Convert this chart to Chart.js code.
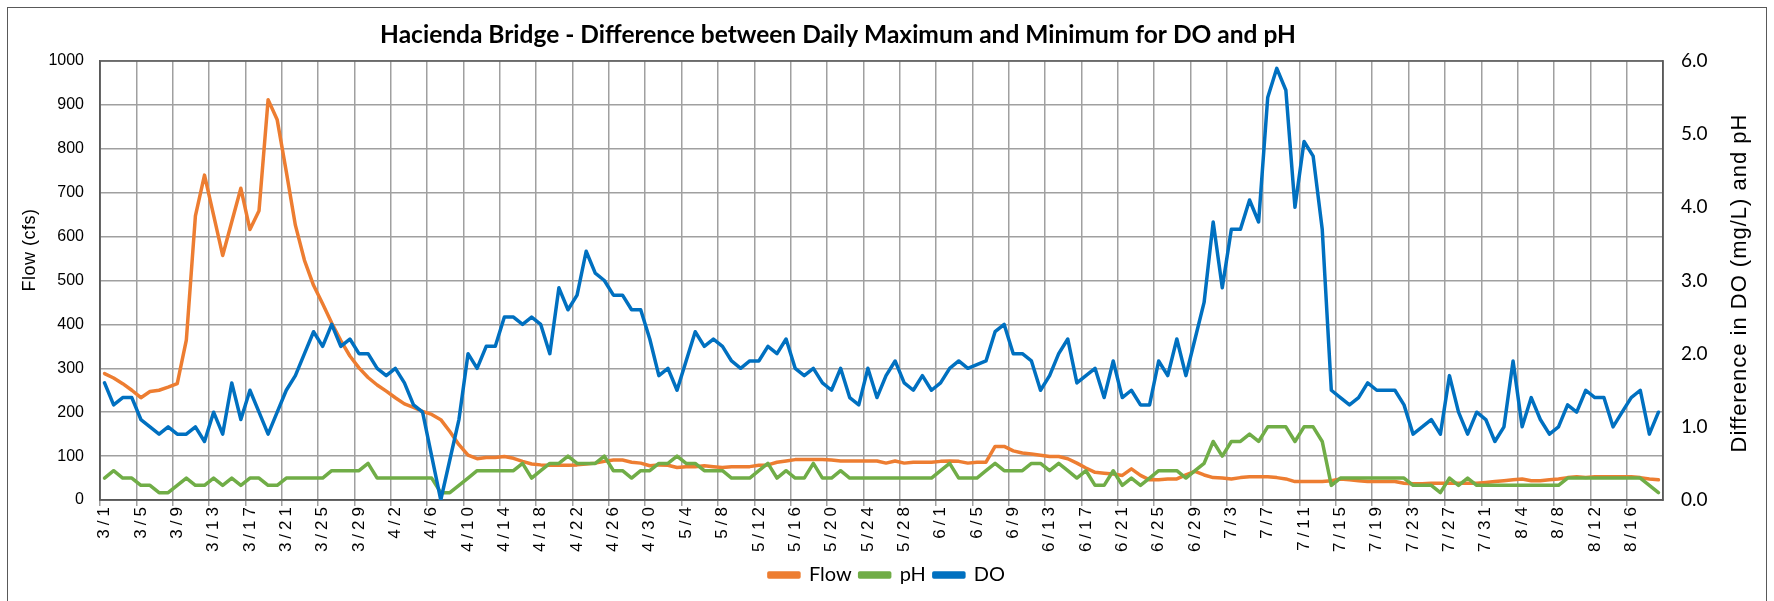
<!DOCTYPE html>
<html>
<head>
<meta charset="utf-8">
<title>Hacienda Bridge</title>
<script src="https://cdn.jsdelivr.net/npm/chart.js@4.4.1/dist/chart.umd.min.js"></script>
<style>
    html, body { margin: 0; padding: 0; background: #fff; }
    #wrap { width: 1774px; height: 601px; }
</style>
</head>
<body>
<div id="wrap"><canvas id="grafico" width="1774" height="601"></canvas></div>
<script>
// ---- datos ----
const chartTitle = 'Hacienda Bridge - Difference between Daily Maximum and Minimum for DO and pH';
const leftTitle = 'Flow (cfs)';
const rightTitle = 'Difference in DO (mg/L) and pH';

// one category per day, 3/1 .. 8/19
const monthDays = [[3, 31], [4, 30], [5, 31], [6, 30], [7, 31], [8, 19]];
const categories = [];
monthDays.forEach(([m, n]) => { for (let d = 1; d <= n; d++) categories.push(m + '/' + d); });

// label shown every 4th day
const xTickLabels = ['3/1', '3/5', '3/9', '3/13', '3/17', '3/21', '3/25', '3/29', '4/2', '4/6', '4/10',
    '4/14', '4/18', '4/22', '4/26', '4/30', '5/4', '5/8', '5/12', '5/16', '5/20', '5/24', '5/28',
    '6/1', '6/5', '6/9', '6/13', '6/17', '6/21', '6/25', '6/29', '7/3', '7/7', '7/11', '7/15',
    '7/19', '7/23', '7/27', '7/31', '8/4', '8/8', '8/12', '8/16'];
const flowTicks = [0, 100, 200, 300, 400, 500, 600, 700, 800, 900, 1000];
const diffTicks = [0, 1, 2, 3, 4, 5, 6];

const flow = [
    288, 278, 265, 250, 233, 247, 250, 257, 265, 364,
    647, 740, 649, 557, 634, 710, 616, 659, 912, 866,
    748, 626, 546, 489, 447, 403, 363, 328, 301, 279,
    262, 248, 233, 219, 211, 202, 195, 183, 156, 126,
    102, 94, 97, 97, 99, 95, 88, 82, 80, 79,
    79, 79, 80, 82, 84, 88, 91, 91, 86, 84,
    78, 80, 79, 74, 76, 76, 78, 76, 74, 76,
    76, 76, 79, 80, 86, 89, 92, 92, 92, 92,
    91, 89, 89, 89, 89, 89, 84, 89, 84, 86,
    86, 86, 88, 89, 88, 84, 86, 86, 122, 122,
    112, 107, 105, 102, 99, 99, 94, 84, 73, 63,
    61, 59, 56, 71, 56, 46, 46, 48, 48, 57,
    65, 57, 51, 50, 48, 51, 53, 53, 53, 51,
    48, 42, 42, 42, 42, 44, 48, 46, 44, 42,
    42, 42, 42, 38, 37, 37, 38, 38, 38, 38,
    38, 38, 40, 42, 44, 46, 48, 44, 44, 46,
    48, 51, 53, 51, 53, 53, 53, 53, 53, 51,
    48, 46
];

const ph = [
    0.3, 0.4, 0.3, 0.3, 0.2, 0.2, 0.1, 0.1, 0.2, 0.3,
    0.2, 0.2, 0.3, 0.2, 0.3, 0.2, 0.3, 0.3, 0.2, 0.2,
    0.3, 0.3, 0.3, 0.3, 0.3, 0.4, 0.4, 0.4, 0.4, 0.5,
    0.3, 0.3, 0.3, 0.3, 0.3, 0.3, 0.3, 0.1, 0.1, 0.2,
    0.3, 0.4, 0.4, 0.4, 0.4, 0.4, 0.5, 0.3, 0.4, 0.5,
    0.5, 0.6, 0.5, 0.5, 0.5, 0.6, 0.4, 0.4, 0.3, 0.4,
    0.4, 0.5, 0.5, 0.6, 0.5, 0.5, 0.4, 0.4, 0.4, 0.3,
    0.3, 0.3, 0.4, 0.5, 0.3, 0.4, 0.3, 0.3, 0.5, 0.3,
    0.3, 0.4, 0.3, 0.3, 0.3, 0.3, 0.3, 0.3, 0.3, 0.3,
    0.3, 0.3, 0.4, 0.5, 0.3, 0.3, 0.3, 0.4, 0.5, 0.4,
    0.4, 0.4, 0.5, 0.5, 0.4, 0.5, 0.4, 0.3, 0.4, 0.2,
    0.2, 0.4, 0.2, 0.3, 0.2, 0.3, 0.4, 0.4, 0.4, 0.3,
    0.4, 0.5, 0.8, 0.6, 0.8, 0.8, 0.9, 0.8, 1.0, 1.0,
    1.0, 0.8, 1.0, 1.0, 0.8, 0.2, 0.3, 0.3, 0.3, 0.3,
    0.3, 0.3, 0.3, 0.3, 0.2, 0.2, 0.2, 0.1, 0.3, 0.2,
    0.3, 0.2, 0.2, 0.2, 0.2, 0.2, 0.2, 0.2, 0.2, 0.2,
    0.2, 0.3, 0.3, 0.3, 0.3, 0.3, 0.3, 0.3, 0.3, 0.3,
    0.2, 0.1
];

const dox = [
    1.6, 1.3, 1.4, 1.4, 1.1, 1.0, 0.9, 1.0, 0.9, 0.9,
    1.0, 0.8, 1.2, 0.9, 1.6, 1.1, 1.5, 1.2, 0.9, 1.2,
    1.5, 1.7, 2.0, 2.3, 2.1, 2.4, 2.1, 2.2, 2.0, 2.0,
    1.8, 1.7, 1.8, 1.6, 1.3, 1.2, 0.6, 0.0, 0.55, 1.1,
    2.0, 1.8, 2.1, 2.1, 2.5, 2.5, 2.4, 2.5, 2.4, 2.0,
    2.9, 2.6, 2.8, 3.4, 3.1, 3.0, 2.8, 2.8, 2.6, 2.6,
    2.2, 1.7, 1.8, 1.5, 1.9, 2.3, 2.1, 2.2, 2.1, 1.9,
    1.8, 1.9, 1.9, 2.1, 2.0, 2.2, 1.8, 1.7, 1.8, 1.6,
    1.5, 1.8, 1.4, 1.3, 1.8, 1.4, 1.7, 1.9, 1.6, 1.5,
    1.7, 1.5, 1.6, 1.8, 1.9, 1.8, 1.85, 1.9, 2.3, 2.4,
    2.0, 2.0, 1.9, 1.5, 1.7, 2.0, 2.2, 1.6, 1.7, 1.8,
    1.4, 1.9, 1.4, 1.5, 1.3, 1.3, 1.9, 1.7, 2.2, 1.7,
    2.2, 2.7, 3.8, 2.9, 3.7, 3.7, 4.1, 3.8, 5.5, 5.9,
    5.6, 4.0, 4.9, 4.7, 3.7, 1.5, 1.4, 1.3, 1.4, 1.6,
    1.5, 1.5, 1.5, 1.3, 0.9, 1.0, 1.1, 0.9, 1.7, 1.2,
    0.9, 1.2, 1.1, 0.8, 1.0, 1.9, 1.0, 1.4, 1.1, 0.9,
    1.0, 1.3, 1.2, 1.5, 1.4, 1.4, 1.0, 1.2, 1.4, 1.5,
    0.9, 1.2
];

// ---- estilos ----
const GRID = '#a0a0a0';
const FRAME = '#595959';

function serie(label, data, color, axis, order) {
    return {
        label: label,
        data: data,
        yAxisID: axis,
        order: order,
        borderColor: color,
        backgroundColor: color,
        borderWidth: 3.5,
        borderJoinStyle: 'round',
        borderCapStyle: 'round',
        pointRadius: 0,
        tension: 0
    };
}

function textoVertical(ctx, texto, x, y, font, spacing) {
    ctx.save();
    ctx.letterSpacing = spacing;
    ctx.translate(x, y);
    ctx.rotate(-Math.PI / 2);
    ctx.font = font;
    ctx.fillStyle = '#000';
    ctx.textAlign = 'center';
    ctx.textBaseline = 'middle';
    ctx.fillText(texto, 0, 0);
    ctx.restore();
}

// chart frame, plot border, axis titles (both read bottom-to-top)
const marcos = {
    id: 'marcos',
    afterLayout(chart) {
        // Excel puts the title a bit left of centre
        chart.titleBlock.left -= 49;
        chart.titleBlock.right -= 49;
    },
    beforeDraw(chart) {
        const ctx = chart.ctx;
        ctx.save();
        ctx.fillStyle = '#fff';
        ctx.fillRect(0, 0, chart.width, chart.height);
        ctx.strokeStyle = FRAME;
        ctx.lineWidth = 1;
        ctx.strokeRect(7.5, 7.5, chart.width - 15, chart.height + 20);
        ctx.restore();
    },
    beforeDatasetsDraw(chart) {
        const a = chart.chartArea;
        const ctx = chart.ctx;
        ctx.save();
        ctx.strokeStyle = FRAME;
        ctx.lineWidth = 1.5;
        ctx.strokeRect(a.left, a.top, a.right - a.left, a.bottom - a.top);
        ctx.restore();
    },
    afterDatasetsDraw(chart) {
        // x labels come after this (ticks z = 1); Excel spreads rotated text
        chart.ctx.letterSpacing = '4px';
    },
    afterDraw(chart) {
        const ctx = chart.ctx;
        ctx.letterSpacing = '0px';
        textoVertical(ctx, leftTitle, 30, 250, '18px "Liberation Sans"', '0.5px');
        textoVertical(ctx, rightTitle, 1740, 283, '22px "Liberation Sans"', '1px');
    }
};

const grafico = new Chart(document.getElementById('grafico'), {
    type: 'line',
    data: {
        labels: categories,
        datasets: [
            serie('Flow', flow, '#ED7D31', 'yFlow', 3),
            serie('pH', ph, '#70AD47', 'yDiff', 2),
            serie('DO', dox, '#0070C0', 'yDiff', 1)
        ]
    },
    options: {
        responsive: false,
        devicePixelRatio: 1,
        animation: false,
        layout: { padding: { left: 8, right: 8, top: 8, bottom: 6 } },
        plugins: {
            title: {
                display: true,
                text: chartTitle,
                color: '#000',
                font: { family: 'Lato', size: 24.5, weight: 'bold' },
                padding: { top: 12, bottom: 11.6 }
            },
            legend: {
                position: 'bottom',
                labels: {
                    color: '#000',
                    font: { family: 'Lato', size: 20 },
                    boxWidth: 30,
                    boxHeight: 4,
                    padding: 8,
                    sort: (a, b) => a.datasetIndex - b.datasetIndex
                }
            },
            tooltip: { enabled: false }
        },
        scales: {
            x: {
                offset: true,
                grid: {
                    offset: true,
                    color: (c) => c.index % 4 === 0 ? GRID : 'rgba(0,0,0,0)',
                    tickColor: (c) => c.index % 4 === 0 ? GRID : 'rgba(0,0,0,0)',
                    lineWidth: 1.5,
                    tickLength: 6,
                    drawTicks: true
                },
                border: { display: true, color: FRAME, width: 1.5 },
                ticks: {
                    autoSkip: false,
                    minRotation: 90,
                    maxRotation: 90,
                    padding: -3,
                    z: 1,
                    color: '#000',
                    font: { family: 'Liberation Sans', size: 17 },
                    callback: (v, i) => i % 4 === 0 ? xTickLabels[i / 4] : ''
                },
                afterFit: (s) => { s.height = 57; }
            },
            yFlow: {
                position: 'left',
                min: 0,
                max: 1000,
                afterBuildTicks: (s) => { s.ticks = flowTicks.map(v => ({ value: v })); },
                grid: { color: GRID, lineWidth: 1.5, drawTicks: false },
                border: { display: true, color: FRAME, width: 1.5 },
                ticks: {
                    padding: 16,
                    color: '#000',
                    font: { family: 'Liberation Sans', size: 16 },
                    callback: (v) => String(v)
                },
                afterFit: (s) => { s.width = 92; }
            },
            yDiff: {
                position: 'right',
                min: 0,
                max: 6,
                afterBuildTicks: (s) => { s.ticks = diffTicks.map(v => ({ value: v })); },
                grid: { drawOnChartArea: false, drawTicks: false },
                border: { display: true, color: FRAME, width: 1.5 },
                ticks: {
                    padding: 18,
                    color: '#000',
                    font: { family: 'Lato', size: 19 },
                    callback: (v) => Number(v).toFixed(1)
                },
                afterFit: (s) => { s.width = 103; }
            }
        }
    },
    plugins: [marcos]
});
</script>
</body>
</html>
